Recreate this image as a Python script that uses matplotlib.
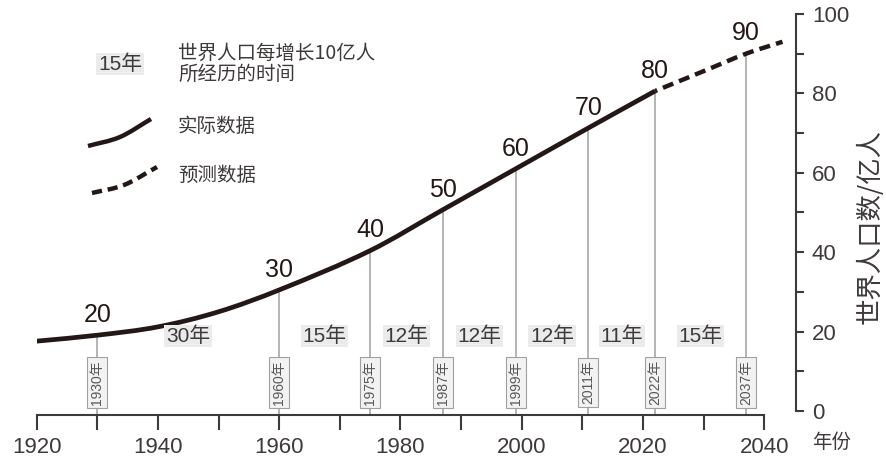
import matplotlib
matplotlib.use('Agg')
import matplotlib.pyplot as plt
from matplotlib.path import Path
from matplotlib.patches import PathPatch

# ---------------- data ----------------
actual_years = [1920, 1930, 1940, 1950, 1960, 1975, 1987, 1999, 2011, 2022]
actual_pop = [17.6, 19.1, 21.2, 25.0, 30.5, 40.4, 50.7, 61.0, 71.3, 80.6]
proj_years = [2022, 2030, 2037, 2043]
proj_pop = [80.6, 85.6, 90.0, 93.0]
milestone_years = [1930, 1960, 1975, 1987, 1999, 2011, 2022, 2037]
milestone_pop = [19.1, 30.5, 40.4, 50.7, 61.0, 71.3, 80.6, 90.0]
milestone_labels = ['20', '30', '40', '50', '60', '70', '80', '90']
year_box_labels = ['1930年', '1960年', '1975年', '1987年', '1999年', '2011年', '2022年', '2037年']
duration_labels = ['30年', '15年', '12年', '12年', '12年', '11年', '15年']
xtick_major = [1920, 1940, 1960, 1980, 2000, 2020, 2040]
xtick_minor = [1930, 1950, 1970, 1990, 2010, 2030]
ytick_major = [0, 20, 40, 60, 80, 100]
ytick_minor = [10, 30, 50, 70, 90]

# ---------------- style ----------------
plt.rcParams['font.family'] = ['Liberation Sans', 'Noto Sans CJK SC']
CJK = ['Noto Sans CJK SC', 'DejaVu Sans']
DARK = '#231815'
AX = '#3e3a39'
TXT = '#3e3a39'
GRAY = '#9fa0a0'


def smooth_path(xs, ys):
    """Cubic Hermite (Bezier) path running through the given points."""
    n = len(xs)
    slopes = []
    for i in range(n):
        if i == 0:
            m = (ys[1] - ys[0]) / (xs[1] - xs[0])
        elif i == n - 1:
            m = (ys[-1] - ys[-2]) / (xs[-1] - xs[-2])
        else:
            m = (ys[i + 1] - ys[i - 1]) / (xs[i + 1] - xs[i - 1])
        slopes.append(m)
    verts = [(xs[0], ys[0])]
    codes = [Path.MOVETO]
    for i in range(n - 1):
        h = xs[i + 1] - xs[i]
        verts += [(xs[i] + h / 3, ys[i] + slopes[i] * h / 3),
                  (xs[i + 1] - h / 3, ys[i + 1] - slopes[i + 1] * h / 3),
                  (xs[i + 1], ys[i + 1])]
        codes += [Path.CURVE4] * 3
    return Path(verts, codes)


W, H = 887, 461
fig = plt.figure(figsize=(W / 100, H / 100), dpi=100)
ax = fig.add_axes([36.7 / W, 46 / H, 759.3 / W, 405 / H])
ax.set_xlim(1920, 1920 + 759.3 / 6.063)
ax.set_ylim(-1.0, 101.0)

# vertical guide lines
ax.vlines(milestone_years, -1.0, milestone_pop, color=GRAY, lw=1.1, zorder=1)

# curves
ax.add_patch(PathPatch(smooth_path(actual_years, actual_pop), fill=False, ec=DARK,
                       lw=3.4, capstyle='butt', joinstyle='round', zorder=3))
ax.add_patch(PathPatch(smooth_path(proj_years, proj_pop), fill=False, ec=DARK,
                       lw=3.2, linestyle=(2.0, (2.5, 1.4)), capstyle='butt',
                       zorder=3, clip_on=False))

# milestone value labels
for yr, pop, lab in zip(milestone_years, milestone_pop, milestone_labels):
    ax.annotate(lab, (yr, pop), xytext=(0, 9.5), textcoords='offset points',
                ha='center', va='baseline', fontsize=18, color=DARK,
                annotation_clip=False, zorder=5)

# year boxes
for yr, lab in zip(milestone_years, year_box_labels):
    ax.text(yr, 7.2, lab, rotation=90, ha='center', va='center', fontsize=10,
            color='#595757', zorder=4,
            bbox=dict(boxstyle='square,pad=0.22', fc='#f2f2f2', ec=GRAY, lw=0.8))

# duration labels
for i, lab in enumerate(duration_labels):
    xm = (milestone_years[i] + milestone_years[i + 1]) / 2
    ax.text(xm, 18.9, lab, ha='center', va='center', fontsize=15, color=TXT, zorder=4,
            bbox=dict(boxstyle='square,pad=0.08', fc='#ebebeb', ec='none'))

# axes styling
for s in ['top', 'left']:
    ax.spines[s].set_visible(False)
ax.spines['bottom'].set_bounds(1920, 2040)
ax.spines['right'].set_bounds(0, 100)
for s in ['bottom', 'right']:
    ax.spines[s].set_linewidth(1.5)
    ax.spines[s].set_color(AX)

ax.set_xticks(xtick_major)
ax.set_xticklabels([str(v) for v in xtick_major])
ax.set_xticks(xtick_minor, minor=True)
ax.tick_params(axis='x', which='both', direction='out', length=11, width=1.5,
               color=AX, pad=4.5, labelsize=16, labelcolor=TXT)

ax.yaxis.tick_right()
ax.set_yticks(ytick_major)
ax.set_yticklabels([str(v) for v in ytick_major])
ax.set_yticks(ytick_minor, minor=True)
ax.tick_params(axis='y', which='both', direction='out', length=5.5, width=1.5,
               color=AX, pad=6, labelsize=16, labelcolor=TXT)

# axis titles
fig.text(870 / W, 1 - 226 / H, '世界人口数/亿人', rotation=90, ha='center', va='center',
         fontsize=19, color=TXT, family=CJK)
fig.text(812 / W, 1 - 442 / H, '年份', ha='left', va='center', fontsize=14,
         color=TXT, family=CJK)

# legend
def fx(px):
    return (px - 36.7) / 759.3


def fy(py):
    return (415 - py) / 405


ax.text(fx(120), fy(64), '15年', transform=ax.transAxes, ha='center', va='center',
        fontsize=15, color=TXT,
        bbox=dict(boxstyle='square,pad=0.08', fc='#ebebeb', ec='none'))
ax.text(fx(178), fy(64), '世界人口每增长10亿人\n所经历的时间', transform=ax.transAxes,
        ha='left', va='center', fontsize=14, color=TXT, family=CJK, linespacing=1.05)
ax.add_patch(PathPatch(smooth_path([fx(88), fx(120), fx(151)], [fy(146), fy(137), fy(119)]),
                       transform=ax.transAxes, fill=False, ec=DARK, lw=3.2,
                       capstyle='butt', clip_on=False))
ax.text(fx(178), fy(127), '实际数据', transform=ax.transAxes, ha='left', va='center',
        fontsize=14, color=TXT, family=CJK)
ax.add_patch(PathPatch(smooth_path([fx(92), fx(124), fx(157)], [fy(193), fy(185), fy(167)]),
                       transform=ax.transAxes, fill=False, ec=DARK, lw=3.2,
                       linestyle=(0, (2.3, 1.3)), capstyle='butt', clip_on=False))
ax.text(fx(178), fy(175), '预测数据', transform=ax.transAxes, ha='left', va='center',
        fontsize=14, color=TXT, family=CJK)

fig.savefig('out.png', dpi=100)
